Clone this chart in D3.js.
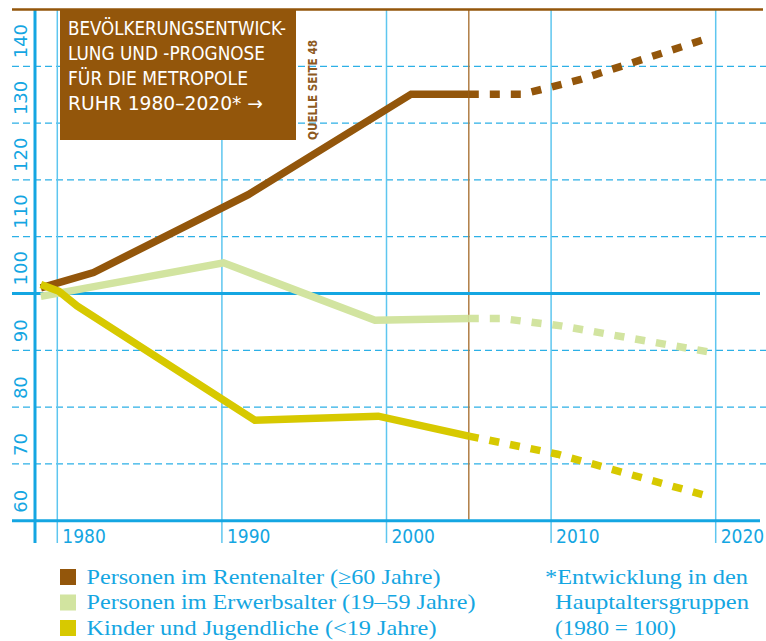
<!DOCTYPE html>
<html>
<head>
<meta charset="utf-8">
<script src="https://cdn.jsdelivr.net/npm/d3@7"></script>
<style>
  body { margin: 0; background: #ffffff; }
  svg { display: block; }
</style>
</head>
<body>
<div id="chart"></div>
<script>
// Values (index 1980 = 100)
const yTicks = [60, 70, 80, 90, 100, 110, 120, 130, 140];
const xTicks = [1980, 1990, 2000, 2010, 2020];

// Personen im Rentenalter
const rentenYears = [1979, 1982.2, 1990.1, 1991.6, 2001.5, 2005];
const rentenValues = [101.0, 103.7, 115.2, 117.4, 135.1, 135.1];
const rentenPrognoseYears = [2005, 2008.3, 2011.8, 2019.5];
const rentenPrognoseValues = [135.1, 135.1, 137.7, 144.9];

// Personen im Erwerbsalter
const erwerbYears = [1979, 1990.1, 1999.3, 2005];
const erwerbValues = [99.5, 105.4, 95.3, 95.6];
const erwerbPrognoseYears = [2005, 2007, 2010.6, 2019.6];
const erwerbPrognoseValues = [95.6, 95.6, 94.3, 89.7];

// Kinder und Jugendliche
const kinderYears = [1979, 1980.1, 1981.2, 1992.0, 1999.5, 2005];
const kinderValues = [101.6, 100.4, 97.8, 77.7, 78.4, 74.9];
const kinderPrognoseYears = [2005, 2010.4, 2019.8];
const kinderPrognoseValues = [74.9, 71.7, 64.1];

const prognoseStart = 2005;

const titleLines = ['BEVÖLKERUNGSENTWICK-', 'LUNG UND -PROGNOSE', 'FÜR DIE METROPOLE', 'RUHR 1980–2020* →'];
const legendLabels = [
    'Personen im Rentenalter (≥60 Jahre)',
    'Personen im Erwerbsalter (19–59 Jahre)',
    'Kinder und Jugendliche (<19 Jahre)'
];
const noteLines = ['*Entwicklung in den', 'Hauptaltersgruppen', '(1980 = 100)'];

const width = 766, height = 641;
const blue = '#14a6e2';
const brown = '#93560b';
const green = '#d2e4a0';
const yellow = '#d7c900';

const svg = d3.select('#chart')
    .append('svg')
    .attr('width', width)
    .attr('height', height);

// Scales
const x = d3.scaleLinear().domain([1980, 2020]).range([57.3, 715.7]);
const y = d3.scaleLinear().domain([60, 150]).range([520.7, 9.5]);

// Horizontal grid lines (dashed), 100 solid
svg.append('g')
    .selectAll('line')
    .data(yTicks.filter(d => d !== 60 && d !== 100))
    .enter()
    .append('line')
    .attr('x1', 12).attr('x2', 766)
    .attr('y1', d => y(d)).attr('y2', d => y(d))
    .attr('stroke', '#2cb0e6')
    .attr('stroke-width', 1.3)
    .attr('stroke-dasharray', '7,4');

// Vertical year lines
svg.append('g')
    .selectAll('line')
    .data(xTicks)
    .enter()
    .append('line')
    .attr('x1', d => x(d)).attr('x2', d => x(d))
    .attr('y1', 9).attr('y2', 543)
    .attr('stroke', '#5ec6ef')
    .attr('stroke-width', 1.5);

// Start of forecast
svg.append('line')
    .attr('x1', x(prognoseStart)).attr('x2', x(prognoseStart))
    .attr('y1', 9).attr('y2', y(60))
    .attr('stroke', '#b07d45')
    .attr('stroke-width', 1.5);

// 100 line and bottom axis
[100, 60].forEach(v => {
    svg.append('line')
        .attr('x1', 12).attr('x2', 760)
        .attr('y1', y(v)).attr('y2', y(v))
        .attr('stroke', blue)
        .attr('stroke-width', 3);
});

// y axis line
svg.append('line')
    .attr('x1', 35).attr('x2', 35)
    .attr('y1', 9).attr('y2', 543)
    .attr('stroke', blue)
    .attr('stroke-width', 3);

// Top brown rule
svg.append('line')
    .attr('x1', 12).attr('x2', 763)
    .attr('y1', 9.5).attr('y2', 9.5)
    .attr('stroke', brown)
    .attr('stroke-width', 2.5);

// y labels (rotated)
svg.append('g')
    .selectAll('text')
    .data(yTicks)
    .enter()
    .append('text')
    .attr('transform', d => `translate(27, ${y(d) - 8}) rotate(-90)`)
    .attr('text-anchor', 'start')
    .style('font-family', 'DejaVu Sans')
    .style('font-size', '18px')
    .style('fill', blue)
    .text(d => d);

// x labels
svg.append('g')
    .selectAll('text')
    .data(xTicks)
    .enter()
    .append('text')
    .attr('x', d => x(d) + 5)
    .attr('y', 543)
    .style('font-family', 'DejaVu Sans Condensed')
    .style('font-size', '19px')
    .style('fill', blue)
    .text(d => d);

// Title box
svg.append('rect')
    .attr('x', 60).attr('y', 9)
    .attr('width', 236).attr('height', 131)
    .attr('fill', brown);

const titleWidths = [218, 197, 180, 195];
titleLines.forEach((t, i) => {
    svg.append('text')
        .attr('x', 68)
        .attr('y', 34.5 + i * 25)
        .attr('textLength', titleWidths[i])
        .attr('lengthAdjust', 'spacingAndGlyphs')
        .style('font-family', 'DejaVu Sans Condensed')
        .style('font-size', '19px')
        .style('fill', '#ffffff')
        .text(t);
});

svg.append('text')
    .attr('transform', 'translate(316.5, 140) rotate(-90)')
    .attr('textLength', 100)
    .attr('lengthAdjust', 'spacingAndGlyphs')
    .style('font-family', 'DejaVu Sans Condensed')
    .style('font-weight', 'bold')
    .style('font-size', '13px')
    .style('fill', '#8d5a1f')
    .text('QUELLE SEITE 48');

// Lines
const line = d3.line()
    .x(d => x(d[0]))
    .y(d => y(d[1]));

const series = [
    { color: green, years: erwerbYears, values: erwerbValues, pYears: erwerbPrognoseYears, pValues: erwerbPrognoseValues },
    { color: brown, years: rentenYears, values: rentenValues, pYears: rentenPrognoseYears, pValues: rentenPrognoseValues },
    { color: yellow, years: kinderYears, values: kinderValues, pYears: kinderPrognoseYears, pValues: kinderPrognoseValues }
];

series.forEach(s => {
    svg.append('path')
        .datum(d3.zip(s.years, s.values))
        .attr('d', line)
        .attr('fill', 'none')
        .attr('stroke', s.color)
        .attr('stroke-width', 7.5)
        .attr('stroke-linejoin', 'miter');

    svg.append('path')
        .datum(d3.zip(s.pYears, s.pValues))
        .attr('d', line)
        .attr('fill', 'none')
        .attr('stroke', s.color)
        .attr('stroke-width', 7.5)
        .attr('stroke-dasharray', '10,11');
});

// Legend
const legendColors = [brown, green, yellow];
const legendWidths = [354, 389, 350];
legendLabels.forEach((t, i) => {
    svg.append('rect')
        .attr('x', 60).attr('y', 569 + i * 25.5)
        .attr('width', 16).attr('height', 16)
        .attr('fill', legendColors[i]);

    svg.append('text')
        .attr('x', 86.5)
        .attr('y', 583.5 + i * 25.5)
        .attr('textLength', legendWidths[i])
        .attr('lengthAdjust', 'spacingAndGlyphs')
        .style('font-family', 'Liberation Serif')
        .style('font-size', '21px')
        .style('fill', blue)
        .text(t);
});

// Footnote
const noteX = [545, 555, 555];
const noteWidths = [203, 194, 121];
noteLines.forEach((t, i) => {
    svg.append('text')
        .attr('x', noteX[i])
        .attr('y', 583.5 + i * 25.5)
        .attr('textLength', noteWidths[i])
        .attr('lengthAdjust', 'spacingAndGlyphs')
        .style('font-family', 'Liberation Serif')
        .style('font-size', '21px')
        .style('fill', blue)
        .text(t);
});
</script>
</body>
</html>
